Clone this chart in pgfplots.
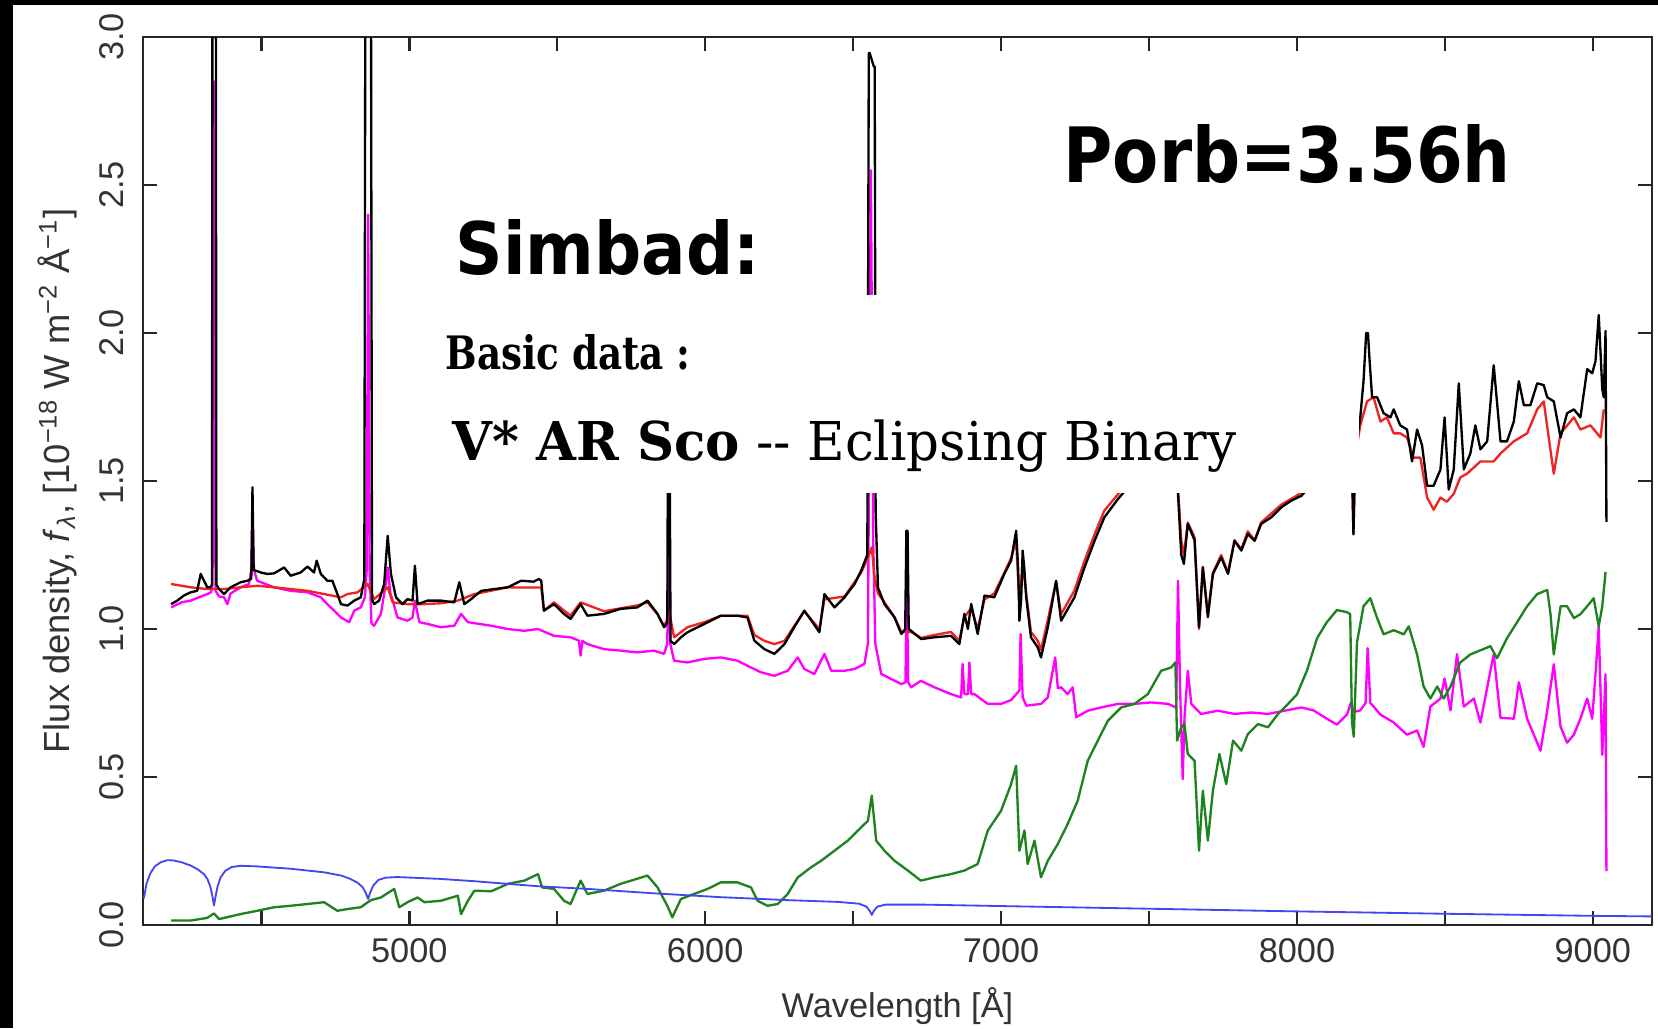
\documentclass[border=0pt]{standalone}
\usepackage{fontspec}
\setmainfont{Liberation Sans}
\newfontfamily\dvsans{DejaVu Sans}
\newfontfamily\dvserif{DejaVu Serif}
\usepackage{graphicx}
\usepackage{pgfplots}
\pgfplotsset{compat=1.18}
\definecolor{specred}{RGB}{240,35,35}
\definecolor{specmag}{RGB}{255,0,255}
\definecolor{specgreen}{RGB}{30,130,30}
\definecolor{specblue}{RGB}{70,70,240}
\begin{document}
\begin{tikzpicture}
\path[use as bounding box, fill=white] (0,0) rectangle (497.4pt,308.4pt);
\begin{axis}[
  at={(42.9pt,30.9pt)}, anchor=south west,
  scale only axis, width=452.7pt, height=266.4pt,
  xmin=4100, xmax=9200, ymin=0, ymax=3,
  xtick={5000,6000,7000,8000,9000},
  minor xtick={4500,5500,6500,7500,8500},
  ytick={0,0.5,1,1.5,2,2.5,3},
  tick align=inside,
  major tick length=4.2pt, minor tick length=4.2pt,
  tick style={line width=0.75pt, black!85},
  axis line style={line width=0.75pt, draw=black!85},
  tick label style={font=\fontsize{10.3}{12}\selectfont, text=black!80},
  /pgf/number format/assume math mode=true,
  /pgf/number format/1000 sep={},
  xticklabel style={inner ysep=3.9pt},
  yticklabel style={rotate=90, anchor=south, inner ysep=5.4pt,
    /pgf/number format/fixed, /pgf/number format/fixed zerofill,
    /pgf/number format/precision=1},
  xlabel={Wavelength [Å]},
  ylabel={Flux density, \textit{f}\textsubscript{\textit{λ}}, [10\textsuperscript{−18} W m\textsuperscript{−2} Å\textsuperscript{−1}]},
  label style={font=\fontsize{10.3}{12}\selectfont, text=black!80},
  xlabel style={at={(axis description cs:0.5,-0.1036)}, anchor=base},
  ylabel style={at={(axis description cs:-0.0484,0.5)}, anchor=base,
    font=\fontsize{10.9}{12}\selectfont},
  every axis plot/.append style={line join=round},
]
% residual (non-stellar) component
\addplot[color=specmag, line width=0.7pt] coordinates {
(4195,1.073)(4230,1.09)(4261,1.096)(4317,1.118)(4330,1.124)(4335,1.15)(4340,2.85)
(4345,1.13)(4357,1.11)(4374,1.107)(4385,1.084)(4396,1.12)(4430,1.141)(4458,1.152)
(4466,1.2)(4470,1.377)(4475,1.2)(4486,1.163)(4543,1.141)(4599,1.129)(4656,1.124)
(4701,1.107)(4723,1.084)(4746,1.062)(4769,1.039)(4797,1.023)(4814,1.062)(4836,1.073)
(4850,1.107)(4856,1.2)(4861,2.4)(4866,1.2)(4872,1.02)(4881,1.011)(4904,1.051)
(4920,1.15)(4927,1.208)(4936,1.12)(4944,1.096)(4960,1.039)(4994,1.028)(5011,1.039)
(5019,1.096)(5034,1.023)(5062,1.017)(5107,1.006)(5152,1.011)(5175,1.051)(5198,1.023)
(5277,1.011)(5333,1.0)(5389,0.994)(5435,1.0)(5489,0.977)(5545,0.972)(5573,0.961)
(5579,0.91)(5585,0.96)(5602,0.949)(5658,0.932)(5714,0.927)(5771,0.921)(5827,0.927)
(5861,0.916)(5872,0.95)(5877,1.45)(5882,0.95)(5895,0.893)(5940,0.887)(5997,0.899)
(6053,0.904)(6109,0.893)(6155,0.87)(6188,0.854)(6234,0.842)(6279,0.859)(6313,0.904)
(6335,0.865)(6369,0.848)(6403,0.916)(6426,0.859)(6471,0.859)(6505,0.865)(6538,0.882)
(6550,0.95)(6560,2.55)(6568,1.3)(6575,0.95)(6595,0.848)(6629,0.831)(6663,0.814)
(6677,0.82)(6681,1.2)(6686,0.82)(6696,0.803)(6729,0.825)(6775,0.803)(6831,0.780)
(6865,0.769)(6870,0.882)(6876,0.78)(6888,0.78)(6893,0.887)(6899,0.78)(6910,0.78)
(6955,0.747)(7000,0.747)(7034,0.76)(7062,0.792)(7066,0.983)(7073,0.77)(7085,0.741)
(7135,0.747)(7158,0.769)(7183,0.904)(7192,0.8)(7203,0.803)(7225,0.780)(7242,0.803)
(7254,0.702)(7293,0.724)(7338,0.735)(7395,0.747)(7451,0.747)(7507,0.752)(7564,0.747)
(7592,0.735)(7598,1.163)(7605,0.8)(7614,0.493)(7620,0.7)(7631,0.859)(7643,0.747)
(7676,0.713)(7733,0.724)(7789,0.713)(7846,0.718)(7902,0.713)(7958,0.724)(8015,0.735)
(8056,0.725)(8101,0.697)(8135,0.677)(8169,0.711)(8183,0.752)(8192,0.72)(8214,0.725)
(8232,0.75)(8239,0.935)(8248,0.75)(8259,0.738)(8282,0.711)(8327,0.684)(8372,0.643)
(8406,0.657)(8428,0.602)(8451,0.738)(8485,0.765)(8499,0.833)(8519,0.725)(8541,0.915)
(8564,0.738)(8598,0.765)(8620,0.684)(8665,0.915)(8688,0.70)(8733,0.697)(8750,0.820)
(8778,0.697)(8823,0.589)(8846,0.725)(8868,0.881)(8891,0.670)(8913,0.616)(8936,0.643)
(8958,0.697)(8981,0.765)(8998,0.697)(9009,0.847)(9020,1.009)(9032,0.575)(9043,0.847)
(9046,0.182)
};
% model fit
\addplot[color=specred, line width=0.7pt] coordinates {
(4195,1.152)(4261,1.141)(4317,1.135)(4374,1.135)(4430,1.141)(4486,1.146)(4543,1.141)
(4599,1.135)(4656,1.129)(4712,1.118)(4769,1.107)(4791,1.118)(4825,1.124)(4859,1.152)
(4881,1.101)(4927,1.141)(4944,1.09)(4994,1.084)(5051,1.084)(5107,1.087)(5164,1.096)
(5220,1.118)(5333,1.141)(5376,1.14)(5446,1.14)(5455,1.062)(5489,1.09)(5545,1.045)
(5579,1.09)(5658,1.06)(5771,1.08)(5805,1.09)(5839,1.05)(5861,1.01)(5880,1.05)
(5895,0.972)(5940,1.006)(5997,1.023)(6053,1.045)(6143,1.045)(6166,0.98)(6200,0.96)
(6234,0.949)(6268,0.96)(6301,1.01)(6335,1.06)(6386,1.0)(6403,1.10)(6471,1.11)
(6527,1.19)(6550,1.24)(6563,1.276)(6572,1.18)(6584,1.12)(6606,1.09)(6640,1.04)
(6663,0.99)(6696,0.99)(6730,0.97)(6775,0.98)(6831,0.99)(6859,0.96)(6876,1.04)
(6899,1.07)(6921,1.0)(6944,1.10)(6977,1.12)(7011,1.19)(7034,1.24)(7051,1.3)
(7062,1.08)(7073,1.22)(7085,1.12)(7101,0.99)(7124,0.96)(7135,0.93)(7158,1.03)
(7186,1.16)(7203,1.05)(7248,1.13)(7282,1.23)(7316,1.32)(7349,1.40)(7395,1.455)
(7430,1.5)(7480,1.55)(7530,1.6)(7580,1.63)(7592,1.6)(7598,1.48)(7609,1.3)
(7618,1.25)(7631,1.36)(7654,1.31)(7669,1.0)(7682,1.21)(7699,1.05)(7716,1.19)
(7744,1.25)(7767,1.19)(7789,1.30)(7812,1.27)(7834,1.33)(7857,1.30)(7879,1.36)
(7913,1.39)(7947,1.42)(7981,1.44)(8015,1.46)(8060,1.49)(8100,1.52)(8150,1.56)
(8185,1.58)(8191,1.32)(8197,1.58)(8214,1.688)(8237,1.769)(8259,1.783)(8282,1.701)
(8304,1.715)(8327,1.661)(8349,1.661)(8372,1.647)(8395,1.579)(8417,1.579)(8440,1.444)
(8462,1.403)(8485,1.444)(8507,1.430)(8530,1.457)(8552,1.512)(8575,1.525)(8620,1.566)
(8665,1.566)(8688,1.593)(8733,1.634)(8778,1.661)(8812,1.742)(8834,1.769)(8868,1.525)
(8891,1.661)(8936,1.715)(8958,1.674)(8992,1.688)(9026,1.647)(9037,1.742)
};
% observed spectrum
\addplot[color=black, line width=0.7pt] coordinates {
(4195,1.084)(4216,1.096)(4238,1.113)(4261,1.124)(4283,1.129)(4295,1.186)(4306,1.163)
(4317,1.141)(4328,1.141)(4333,1.15)(4335,3.5)(4346,3.5)(4348,1.15)(4357,1.135)
(4374,1.118)(4396,1.141)(4430,1.158)(4453,1.163)(4466,1.17)(4470,1.479)(4474,1.2)
(4481,1.197)(4498,1.191)(4520,1.186)(4543,1.188)(4577,1.208)(4599,1.180)(4633,1.191)
(4656,1.211)(4678,1.191)(4687,1.231)(4701,1.186)(4723,1.163)(4740,1.163)(4757,1.118)
(4769,1.084)(4791,1.079)(4814,1.096)(4836,1.107)(4848,1.169)(4852,3.5)(4870,3.5)
(4874,1.1)(4881,1.084)(4898,1.096)(4915,1.152)(4927,1.315)(4938,1.186)(4955,1.107)
(4977,1.084)(4994,1.101)(5011,1.096)(5019,1.214)(5028,1.084)(5062,1.096)(5107,1.096)
(5152,1.090)(5169,1.158)(5186,1.084)(5209,1.101)(5243,1.129)(5288,1.135)(5333,1.141)
(5378,1.163)(5420,1.16)(5438,1.169)(5446,1.163)(5455,1.062)(5489,1.084)(5523,1.051)
(5545,1.034)(5579,1.084)(5602,1.045)(5658,1.051)(5714,1.068)(5771,1.073)(5805,1.096)
(5839,1.051)(5861,1.006)(5872,1.02)(5874,1.6)(5880,1.6)(5883,0.96)(5895,0.949)
(5918,0.972)(5940,0.989)(5997,1.017)(6053,1.045)(6109,1.045)(6143,1.039)(6166,0.961)
(6200,0.932)(6234,0.916)(6268,0.949)(6301,1.006)(6335,1.062)(6358,1.03)(6386,0.989)
(6403,1.118)(6437,1.073)(6471,1.107)(6505,1.152)(6527,1.197)(6548,1.25)(6553,2.946)
(6556,2.946)(6570,2.9)(6573,2.9)(6576,1.4)(6584,1.14)(6606,1.084)(6640,1.039)
(6663,0.983)(6676,1.0)(6680,1.332)(6684,1.332)(6688,1.0)(6696,0.994)(6730,0.966)
(6775,0.972)(6831,0.977)(6859,0.949)(6876,1.051)(6888,1.0)(6899,1.085)(6921,0.983)
(6944,1.113)(6977,1.107)(7011,1.186)(7034,1.231)(7051,1.332)(7058,1.2)(7062,1.028)
(7068,1.1)(7073,1.265)(7079,1.2)(7085,1.107)(7101,0.972)(7124,0.938)(7135,0.904)
(7158,1.006)(7186,1.163)(7203,1.028)(7248,1.107)(7282,1.208)(7316,1.298)(7349,1.377)
(7395,1.439)(7430,1.48)(7480,1.53)(7530,1.58)(7580,1.62)(7592,1.6)(7598,1.457)
(7609,1.25)(7618,1.22)(7631,1.355)(7654,1.30)(7669,1.006)(7682,1.208)(7699,1.04)
(7716,1.186)(7744,1.242)(7767,1.186)(7789,1.298)(7812,1.265)(7834,1.321)(7857,1.298)
(7879,1.355)(7913,1.377)(7947,1.411)(7981,1.434)(8015,1.45)(8060,1.5)(8100,1.54)
(8150,1.58)(8185,1.6)(8191,1.32)(8197,1.6)(8214,1.715)(8225,1.837)(8234,2.0)
(8240,2.0)(8246,1.9)(8254,1.783)(8271,1.783)(8293,1.729)(8316,1.715)(8327,1.742)
(8349,1.688)(8372,1.674)(8389,1.566)(8406,1.674)(8423,1.620)(8440,1.484)(8462,1.484)
(8485,1.539)(8499,1.715)(8513,1.471)(8530,1.539)(8547,1.830)(8564,1.539)(8586,1.593)
(8603,1.688)(8620,1.607)(8643,1.634)(8665,1.891)(8688,1.634)(8710,1.634)(8733,1.701)
(8750,1.837)(8767,1.756)(8789,1.756)(8812,1.830)(8834,1.824)(8846,1.783)(8868,1.769)
(8891,1.647)(8913,1.729)(8936,1.742)(8958,1.715)(8981,1.878)(8998,1.864)(9009,1.905)
(9020,2.061)(9032,1.810)(9037,1.783)(9043,2.007)(9046,1.362)
};
% M dwarf template
\addplot[color=specgreen, line width=0.7pt] coordinates {
(4195,0.015)(4261,0.015)(4317,0.024)(4340,0.039)(4357,0.02)(4430,0.037)(4486,0.048)
(4543,0.06)(4599,0.065)(4656,0.071)(4712,0.077)(4757,0.048)(4791,0.054)(4836,0.06)
(4870,0.084)(4904,0.093)(4949,0.122)(4966,0.06)(4994,0.077)(5028,0.093)(5051,0.077)
(5107,0.082)(5164,0.099)(5175,0.037)(5198,0.082)(5220,0.116)(5277,0.114)(5333,0.139)
(5389,0.150)(5435,0.172)(5449,0.127)(5489,0.122)(5523,0.082)(5545,0.071)(5579,0.150)
(5602,0.105)(5658,0.116)(5714,0.139)(5805,0.167)(5839,0.127)(5872,0.065)(5889,0.026)
(5918,0.088)(5963,0.105)(6008,0.122)(6053,0.144)(6109,0.144)(6155,0.127)(6177,0.082)
(6211,0.065)(6245,0.071)(6279,0.105)(6313,0.161)(6358,0.195)(6392,0.217)(6437,0.251)
(6482,0.285)(6527,0.330)(6550,0.352)(6563,0.437)(6578,0.285)(6606,0.251)(6640,0.217)
(6685,0.184)(6729,0.150)(6775,0.161)(6831,0.172)(6876,0.184)(6921,0.206)(6955,0.319)
(7000,0.386)(7034,0.476)(7051,0.538)(7062,0.251)(7079,0.319)(7090,0.206)(7113,0.285)
(7135,0.161)(7158,0.217)(7192,0.274)(7225,0.341)(7259,0.420)(7293,0.555)(7327,0.623)
(7361,0.690)(7406,0.735)(7451,0.747)(7496,0.780)(7541,0.859)(7575,0.870)(7589,0.887)
(7595,0.623)(7609,0.668)(7620,0.679)(7631,0.578)(7654,0.555)(7669,0.251)(7682,0.454)
(7699,0.285)(7716,0.454)(7738,0.578)(7761,0.476)(7784,0.623)(7812,0.589)(7834,0.645)
(7868,0.679)(7902,0.668)(7936,0.713)(7970,0.747)(8000,0.779)(8034,0.86)(8068,0.969)
(8101,1.023)(8135,1.064)(8169,1.057)(8180,1.05)(8186,0.684)(8192,0.636)(8203,0.955)
(8225,1.077)(8248,1.104)(8271,1.037)(8293,0.982)(8327,0.996)(8361,0.982)(8378,1.009)
(8406,0.914)(8428,0.806)(8451,0.765)(8474,0.806)(8496,0.765)(8519,0.806)(8552,0.887)
(8586,0.914)(8620,0.928)(8654,0.942)(8676,0.901)(8710,0.969)(8744,1.023)(8778,1.077)
(8812,1.118)(8846,1.132)(8857,1.05)(8868,0.914)(8891,1.077)(8913,1.077)(8936,1.037)
(8958,1.050)(8981,1.077)(9003,1.104)(9020,1.009)(9032,1.077)(9043,1.193)
};
% white dwarf model
\addplot[color=specblue, line width=0.55pt] coordinates {
(4103,0.09)(4112,0.14)(4125,0.175)(4140,0.198)(4160,0.212)(4182,0.219)(4204,0.218)
(4230,0.212)(4261,0.201)(4285,0.188)(4306,0.172)(4318,0.155)(4328,0.128)(4335,0.095)
(4340,0.066)(4345,0.095)(4352,0.13)(4362,0.16)(4378,0.183)(4400,0.196)(4430,0.2)
(4486,0.198)(4600,0.19)(4712,0.178)(4770,0.167)(4800,0.156)(4825,0.143)(4843,0.127)
(4853,0.108)(4861,0.088)(4868,0.11)(4878,0.133)(4895,0.152)(4920,0.16)(4960,0.162)
(5100,0.156)(5220,0.148)(5333,0.139)(5435,0.131)(5602,0.122)(5827,0.107)(6053,0.094)
(6279,0.084)(6450,0.078)(6520,0.072)(6545,0.062)(6556,0.048)(6563,0.034)(6570,0.048)
(6582,0.062)(6610,0.069)(6730,0.069)(7000,0.064)(7500,0.055)(8000,0.046)(8500,0.038)
(9000,0.031)(9200,0.029)
};
\end{axis}
% screenshot frame
\fill[black] (0,0) rectangle (3.9pt,308.4pt);
\fill[black] (0,306.9pt) rectangle (497.4pt,308.4pt);
% pasted Simbad snippet
\fill[white] (120pt,160.5pt) rectangle (407.7pt,219.9pt);
\node[anchor=base west, inner sep=0] at (136.5pt,225.9pt)
  {\resizebox{91.2pt}{16.5pt}{\dvsans\bfseries Simbad:}};
\node[anchor=base west, inner sep=0] at (318.9pt,253.5pt)
  {\resizebox{134.1pt}{17.4pt}{\dvsans\bfseries Porb=3.56h}};
\node[anchor=base west, inner sep=0] at (133.5pt,197.4pt)
  {\resizebox{73.5pt}{10.5pt}{\dvserif\bfseries Basic data :}};
\node[anchor=base west, inner sep=0] at (135.5pt,170.4pt)
  {\resizebox{235.2pt}{12.2pt}{\dvserif{\bfseries V* AR Sco} -{}- Eclipsing Binary}};
\end{tikzpicture}
\end{document}
